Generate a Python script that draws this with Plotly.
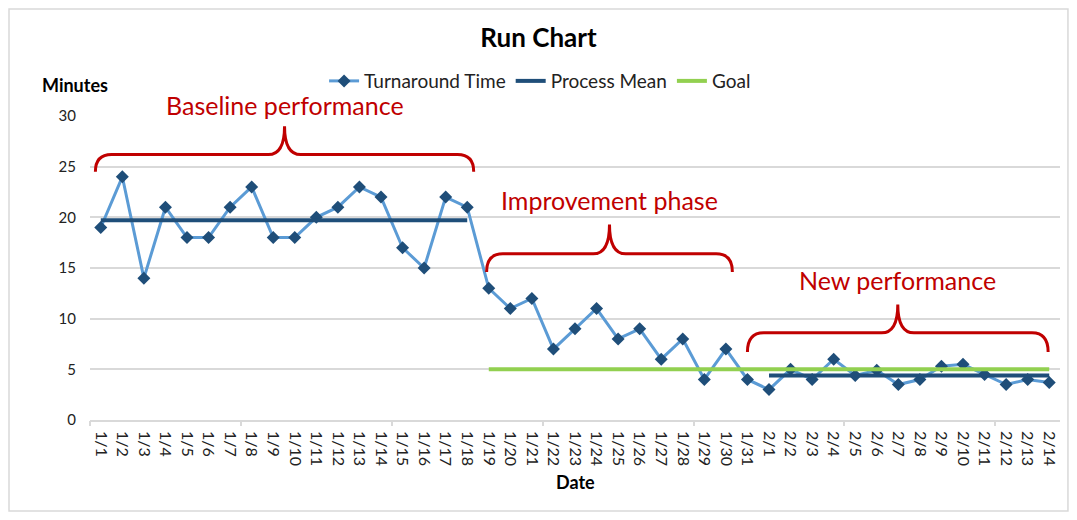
import plotly.graph_objects as go

dates = ["1/1","1/2","1/3","1/4","1/5","1/6","1/7","1/8","1/9","1/10","1/11","1/12","1/13","1/14","1/15",
         "1/16","1/17","1/18","1/19","1/20","1/21","1/22","1/23","1/24","1/25","1/26","1/27","1/28","1/29",
         "1/30","1/31","2/1","2/2","2/3","2/4","2/5","2/6","2/7","2/8","2/9","2/10","2/11","2/12","2/13","2/14"]

turnaround = [19, 24, 14, 21, 18, 18, 21, 23, 18, 18, 20, 21, 23, 22, 17, 15, 22, 21,
              13, 11, 12, 7, 9, 11, 8, 9, 6, 8, 4, 7, 4,
              3, 5, 4, 6, 4.4, 4.9, 3.5, 4, 5.3, 5.5, 4.5, 3.5, 4, 3.7]

N = None
process_mean = [19.7, 19.7, 19.7, 19.7, 19.7, 19.7, 19.7, 19.7, 19.7, 19.7, 19.7, 19.7, 19.7, 19.7, 19.7,
                19.7, 19.7, 19.7, N, N, N, N, N, N, N, N, N, N, N, N, N,
                4.4, 4.4, 4.4, 4.4, 4.4, 4.4, 4.4, 4.4, 4.4, 4.4, 4.4, 4.4, 4.4, 4.4]

goal = [N, N, N, N, N, N, N, N, N, N, N, N, N, N, N, N, N, N,
        5, 5, 5, 5, 5, 5, 5, 5, 5, 5, 5, 5, 5,
        5, 5, 5, 5, 5, 5, 5, 5, 5, 5, 5, 5, 5, 5]

y_ticks = [0, 5, 10, 15, 20, 25, 30]
y_max = 30
week_ticks = [-0.5, 6.5, 13.5, 20.5, 27.5, 34.5, 41.5]

# brackets: label, x start, x end (index units), end y, bar y, tip y, label y
bracket_labels = ["Baseline performance", "Improvement phase", "New performance"]
bracket_x0 = [-0.25, 17.9, 30.0]
bracket_x1 = [17.3, 29.3, 43.95]
bracket_yend = [24.5, 14.6, 6.7]
bracket_ybar = [26.2, 16.4, 8.6]
bracket_ytip = [29.0, 19.3, 11.4]
bracket_label_y = [31.1, 21.7, 13.8]

RED = "#C00000"
FONT = "Lato, 'Open Sans', sans-serif"

idx = list(range(len(dates)))

fig = go.Figure()
fig.add_trace(go.Scatter(x=idx, y=turnaround, name="Turnaround Time", mode="lines+markers",
                         line=dict(color="#5B9BD5", width=3),
                         marker=dict(symbol="diamond", size=10, color="#1F4E79")))
fig.add_trace(go.Scatter(x=idx, y=process_mean, name="Process Mean", mode="lines",
                         line=dict(color="#1F4E79", width=4), connectgaps=False))
fig.add_trace(go.Scatter(x=idx, y=goal, name="Goal", mode="lines",
                         line=dict(color="#92D050", width=4), connectgaps=False))
# invisible trace to activate the second x axis used for week tick marks
fig.add_trace(go.Scatter(x=[week_ticks[0]], y=[0], xaxis="x2", mode="markers",
                         marker=dict(opacity=0), showlegend=False, hoverinfo="skip"))

shapes = []
annotations = []
for lab, x0, x1, ye, yb, yt, ly in zip(bracket_labels, bracket_x0, bracket_x1, bracket_yend,
                                        bracket_ybar, bracket_ytip, bracket_label_y):
    xc = (x0 + x1) / 2
    r = 0.75
    path = (f"M {x0},{ye} Q {x0},{yb} {x0 + r},{yb} L {xc - r},{yb} Q {xc},{yb} {xc},{yt} "
            f"Q {xc},{yb} {xc + r},{yb} L {x1 - r},{yb} Q {x1},{yb} {x1},{ye}")
    shapes.append(dict(type="path", path=path, xref="x", yref="y",
                       line=dict(color=RED, width=3)))
    annotations.append(dict(x=xc, y=ly / y_max, xref="x", yref="paper", text=lab, showarrow=False,
                            xanchor="center", yanchor="middle",
                            font=dict(color=RED, size=25, family=FONT)))

annotations.append(dict(x=-0.015, y=1.102, xref="paper", yref="paper", text="<b>Minutes</b>",
                        showarrow=False, xanchor="center", yanchor="middle",
                        font=dict(size=18, color="#000000", family=FONT)))
annotations.append(dict(x=0.501, y=-0.204, xref="paper", yref="paper", text="<b>Date</b>",
                        showarrow=False, xanchor="center", yanchor="middle",
                        font=dict(size=18, color="#000000", family=FONT)))

shapes.append(dict(type="rect", xref="paper", yref="paper", x0=-0.0835, x1=1.0082, y0=-0.2993, y1=1.352,
                   line=dict(color="#D9D9D9", width=1.5), layer="below"))

fig.update_layout(
    width=1061, height=504,
    margin=dict(l=82, r=9, t=108, b=92),
    paper_bgcolor="white", plot_bgcolor="white",
    font=dict(family=FONT, color="#000000"),
    title=dict(text="<b>Run Chart</b>", x=0.5, xref="container", xanchor="center",
               y=1 - 30 / 504, yanchor="middle", yref="container",
               font=dict(size=26, family=FONT, color="#000000")),
    legend=dict(orientation="h", x=0.464, xanchor="center", y=1.115, yanchor="middle",
                font=dict(size=19, family=FONT, color="#222222"), itemwidth=30,
                bgcolor="rgba(0,0,0,0)"),
    xaxis=dict(range=[-0.5, 44.5], tickmode="array", tickvals=idx, ticktext=dates,
               tickangle=90, tickfont=dict(size=16, family=FONT, color="#222222"),
               showgrid=False, zeroline=False, showline=True, linecolor="#D9D9D9", linewidth=1.5,
               ticks="", fixedrange=True, ticklabelstandoff=6),
    xaxis2=dict(range=[-0.5, 44.5], overlaying="x", side="bottom", tickmode="array",
                tickvals=week_ticks, showticklabels=False, ticks="outside", ticklen=5,
                tickcolor="#D9D9D9", tickwidth=1.5, showgrid=False, zeroline=False,
                showline=False),
    yaxis=dict(range=[0, y_max], tickmode="array", tickvals=y_ticks,
               tickfont=dict(size=15, family=FONT, color="#222222"),
               showgrid=True, gridcolor="#D9D9D9", gridwidth=1.5, zeroline=False,
               showline=False, ticks="", ticklabelstandoff=13),
    shapes=shapes,
    annotations=annotations,
    showlegend=True,
)

fig.write_html("out.html")
